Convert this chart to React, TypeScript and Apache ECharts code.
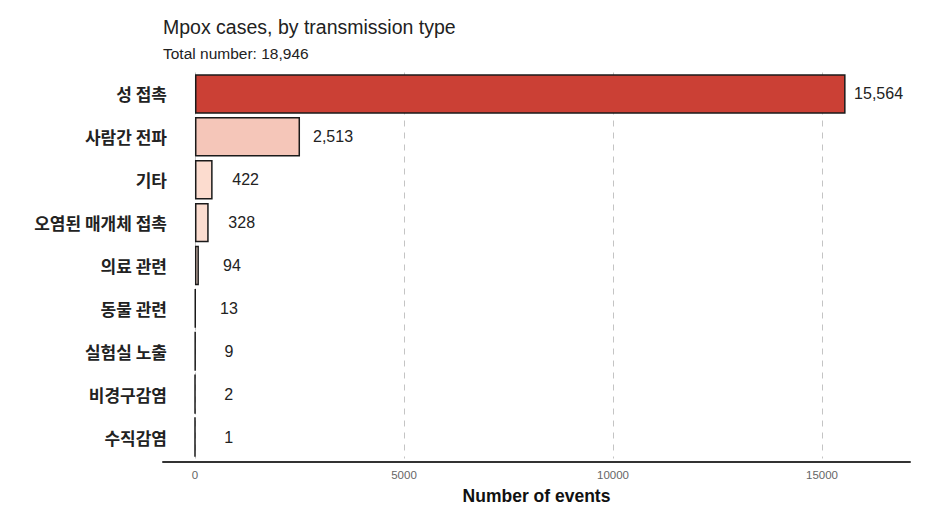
import React, { useEffect, useRef } from "react";
import * as echarts from "echarts";

const categories = [
  "성 접촉",
  "사람간 전파",
  "기타",
  "오염된 매개체 접촉",
  "의료 관련",
  "동물 관련",
  "실험실 노출",
  "비경구감염",
  "수직감염",
];
const values = [15564, 2513, 422, 328, 94, 13, 9, 2, 1];
const xTicks = [0, 5000, 10000, 15000];
const titleText = "Mpox cases, by transmission type";
const subtitleText = "Total number: 18,946";
const xAxisName = "Number of events";

const FONT = "'Liberation Sans', Arial, 'Noto Sans CJK KR', sans-serif";

export default function App() {
  const ref = useRef<HTMLDivElement>(null);
  useEffect(() => {
    if (!ref.current) return;
    const chart = echarts.init(ref.current, null, { renderer: "svg" });
    const fmt = (v: number) => v.toLocaleString("en-US");
    chart.setOption({
      animation: false,
      backgroundColor: "#ffffff",
      textStyle: { fontFamily: FONT },
      title: {
        text: titleText,
        subtext: subtitleText,
        left: 158,
        top: 12,
        itemGap: 9,
        textStyle: { fontSize: 19.5, fontWeight: "normal", color: "#222", fontFamily: FONT },
        subtextStyle: { fontSize: 15.5, color: "#222", fontFamily: FONT },
      },
      grid: { left: 163, right: 26, top: 72.5, height: 391.5, containLabel: false },
      visualMap: {
        show: false,
        type: "continuous",
        min: 0,
        max: 15564,
        dimension: 0,
        seriesIndex: 0,
        inRange: { color: ["#fde0d3", "#cb4035"] },
      },
      xAxis: {
        type: "value",
        min: -765,
        max: 17105,
        offset: 3,
        name: xAxisName,
        nameLocation: "middle",
        nameGap: 26,
        nameTextStyle: { fontSize: 17.5, fontWeight: "bold", color: "#111", fontFamily: FONT },
        axisLine: { show: true, onZero: false, lineStyle: { color: "#333", width: 2 } },
        axisTick: { show: false, customValues: xTicks },
        axisLabel: {
          fontSize: 11.5,
          color: "#666",
          margin: 8,
          customValues: xTicks,
          formatter: (v: number) => String(v),
        },
        splitLine: {
          show: true,
          lineStyle: { color: "#c4c4c4", type: [6, 6], width: 1 },
        },
      },
      yAxis: {
        type: "category",
        data: categories,
        inverse: true,
        axisLine: { show: false },
        axisTick: { show: false },
        axisLabel: {
          fontSize: 17,
          fontWeight: "bold",
          color: "#222",
          margin: -4,
          fontFamily: "'Noto Sans CJK KR', sans-serif",
        },
        splitLine: { show: false },
      },
      series: [
        {
          type: "bar",
          data: values,
          barCategoryGap: "8%",
          itemStyle: { borderColor: "#1a1a1a", borderWidth: 1.5 },
          label: {
            show: true,
            position: "right",
            distance: 33,
            align: "center",
            fontSize: 16,
            color: "#222",
            fontFamily: FONT,
            formatter: (p: any) => fmt(p.value),
          },
        },
      ],
    });
    return () => chart.dispose();
  }, []);
  return (
    <div
      ref={ref}
      style={{ position: "fixed", left: 0, top: 0, width: 936, height: 510 }}
    />
  );
}
